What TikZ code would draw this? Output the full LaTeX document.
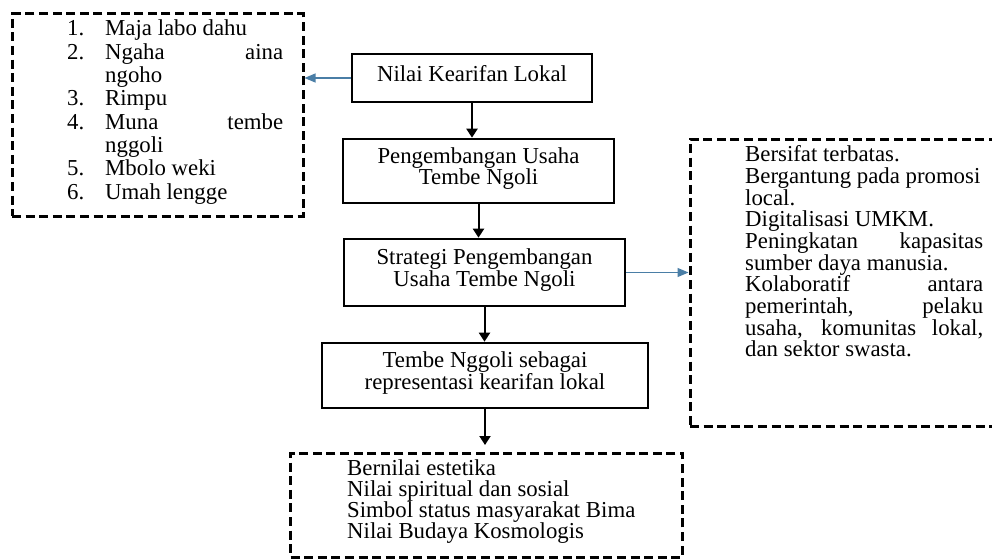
\documentclass[tikz,border=0pt]{standalone}
\usepackage{fontspec}
\setmainfont{Liberation Serif}
\usetikzlibrary{arrows.meta}
\definecolor{linkblue}{RGB}{74,126,166}
\tikzset{
    mainbox/.style={draw, line width=2.6pt, inner sep=0pt, align=center, text depth=10pt, font=\fontsize{22.8}{21.7}\selectfont},
    notebox/.style={draw, line width=3pt, dash pattern=on 9pt off 4.6pt, inner sep=0pt},
    notetext/.style={anchor=base west, inner sep=0pt, font=\fontsize{22.8}{21.7}\selectfont},
    flow/.style={line width=2pt, -{Triangle[length=9pt,width=11pt]}},
    link/.style={linkblue, line width=1.2pt, -{Triangle[length=11pt,width=9pt]}}
}
\begin{document}
\begin{tikzpicture}[x=1pt, y=-1pt]
    \useasboundingbox (0,0) rectangle (992,559);
    \clip (0,0) rectangle (992,559);

    % Main flow boxes
    \node[mainbox, minimum width=240pt, minimum height=48pt] (nilai) at (472,78) {Nilai Kearifan Lokal};
    \node[mainbox, minimum width=271pt, minimum height=64pt] (usaha) at (478.5,171) {Pengembangan Usaha\\Tembe Ngoli};
    \node[mainbox, minimum width=281pt, minimum height=67pt] (strategi) at (484.5,272.5) {Strategi Pengembangan\\Usaha Tembe Ngoli};
    \node[mainbox, minimum width=326pt, minimum height=65pt] (tembe) at (485,375.5) {Tembe Nggoli sebagai\\representasi kearifan lokal};

    % Dashed note boxes
    \node[notebox, minimum width=291pt, minimum height=202pt] (kearifan) at (157.5,115) {};
    \node[notebox, minimum width=330pt, minimum height=287pt] (kendala) at (855,282.5) {};
    \node[notebox, minimum width=392pt, minimum height=104pt] (makna) at (486.5,505) {};
    \coordinate (makna-in) at (485,445);

    % Arrows
    \foreach \a/\b in {nilai/usaha, usaha/strategi, strategi/tembe}
        \draw[flow] (\a.south) -- (\a.south |- \b.north);
    \draw[flow] (tembe.south) -- (makna-in);
    \draw[link] (nilai.west) -- (nilai.west -| kearifan.east);
    \draw[link] (strategi.east) -- (strategi.east -| kendala.west);

    % Local wisdom list
    \foreach \num/\row in {1./1, 2./2, 3./4, 4./5, 5./7, 6./8}
        \node[notetext] (num\row) at (67, {36+23.3*(\row-1)}) {\num};
    \foreach \txt [count=\i] in {Maja labo dahu, {\makebox[178pt][s]{Ngaha aina}}, ngoho, Rimpu,
        {\makebox[178pt][s]{Muna tembe}}, nggoli, Mbolo weki, Umah lengge}
        \node[notetext] (item\i) at (105, {36+23.3*(\i-1)}) {\txt};

    % Strategy notes
    \foreach \txt [count=\i] in {Bersifat terbatas., Bergantung pada promosi, local., Digitalisasi UMKM.,
        {\makebox[238pt][s]{Peningkatan kapasitas}}, sumber daya manusia.,
        {\makebox[238pt][s]{Kolaboratif antara}}, {\makebox[238pt][s]{pemerintah, pelaku}},
        {\makebox[238pt][s]{usaha, komunitas lokal,}}, dan sektor swasta.}
        \node[notetext] (point\i) at (745, {161.7+21.67*(\i-1)}) {\txt};

    % Values of tembe nggoli
    \foreach \txt [count=\i] in {Bernilai estetika, Nilai spiritual dan sosial,
        Simbol status masyarakat Bima, Nilai Budaya Kosmologis}
        \node[notetext] (value\i) at (347, {475+21.2*(\i-1)}) {\txt};
\end{tikzpicture}
\end{document}
